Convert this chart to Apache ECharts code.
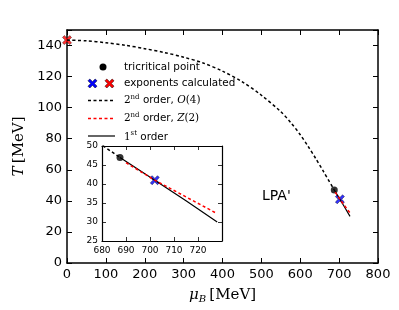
<!DOCTYPE html>
<html><head><meta charset="utf-8">
<script src="https://cdn.jsdelivr.net/npm/echarts@6/dist/echarts.min.js"></script>
<style>html,body{margin:0;padding:0;background:#fff}#c{width:399px;height:310px}</style>
</head><body><div id="c"></div>
<script>
// second order O(4) line (mu_B, T)
const muO4 = [0, 50, 100, 150, 200, 250, 300, 350, 400, 450, 500, 550, 575, 600, 620, 640, 660, 687.5];
const TO4  = [143.5, 143, 141.8, 140.2, 138, 135.5, 132.5, 128.8, 123.5, 116.8, 108, 97.4, 90.6, 82.6, 75.2, 67.2, 58.8, 47];
// first order line
const mu1st = [687.5, 702, 715, 728];
const T1st  = [47, 41, 35.6, 30];
// second order Z(2) line
const muZ2 = [690, 702, 715, 728];
const TZ2  = [45.6, 41, 36.6, 32.2];
// tricritical point
const muTCP = [687.5];
const TTCP  = [47];
// exponents calculated
const muExpBlue = [702];
const TExpBlue  = [41];
const muExpRed  = [0];
const TExpRed   = [143.5];
// ticks
const xTicksMain = [0, 100, 200, 300, 400, 500, 600, 700, 800];
const yTicksMain = [0, 20, 40, 60, 80, 100, 120, 140];
const xTicksInset = [680, 690, 700, 710, 720];
const yTicksInset = [25, 30, 35, 40, 45, 50];

const zip = (a, b) => a.map((v, i) => [v, b[i]]);
const XPATH = 'path://M0,2 L2,0 L5,3 L8,0 L10,2 L7,5 L10,8 L8,10 L5,7 L2,10 L0,8 L3,5 Z';
const XPTS = [[0,2],[2,0],[5,3],[8,0],[10,2],[7,5],[10,8],[8,10],[5,7],[2,10],[0,8],[3,5]];
const xPoly = (cx, cy, s) => XPTS.map(p => [cx + (p[0] - 5) * s / 10, cy + (p[1] - 5) * s / 10]);
const SANS = 'DejaVu Sans';
const SERIF = 'DejaVu Serif';

const chart = echarts.init(document.getElementById('c'), null, {renderer: 'canvas'});

function axisBase(extra) {
  return Object.assign({
    type: 'value',
    axisLine: {show: true, onZero: false, lineStyle: {color: '#000', width: 1.5}},
    axisTick: {show: true, inside: true, length: 5, lineStyle: {color: '#000', width: 1}},
    splitLine: {show: false},
    axisLabel: {show: false}
  }, extra);
}

const mainX = {min: 0, max: 800, interval: 100};
const mainY = {min: 0, max: 150, interval: 20};
const insX = {min: 680, max: 730, interval: 10};
const insY = {min: 25, max: 50, interval: 5};
const insLine = {show: true, onZero: false, lineStyle: {color: '#000', width: 1.2}};
const insTick = {show: true, inside: true, length: 4, lineStyle: {color: '#000', width: 0.8}};

const FS = 10.4;
const richLeg = {
  m: {fontFamily: SERIF, fontSize: FS, fill: '#000', verticalAlign: 'middle'},
  sup: {fontFamily: SERIF, fontSize: 7, fill: '#000', verticalAlign: 'middle', padding: [0, 0, 7, 0]},
  t: {fontFamily: SANS, fontSize: FS, fill: '#000', verticalAlign: 'middle'},
  i: {fontFamily: SERIF, fontStyle: 'italic', fontSize: FS, fill: '#000', verticalAlign: 'middle'}
};

const option = {
  animation: false,
  backgroundColor: '#fff',
  grid: [
    {left: 67, top: 30, width: 311, height: 233},
    {left: 102, top: 146, width: 120, height: 95, show: true, backgroundColor: '#fff', borderWidth: 0}
  ],
  xAxis: [
    axisBase(Object.assign({gridIndex: 0, position: 'bottom',
      axisLabel: {show: true, color: '#000', fontSize: 13, fontFamily: SANS, margin: 5,
        formatter: v => xTicksMain.includes(v) ? String(v) : ''},
      name: '{i|μ}{s|B} {n|[MeV]}', nameLocation: 'middle', nameGap: 23,
      nameTextStyle: {rich: {
        i: {fontFamily: SERIF, fontStyle: 'italic', fontSize: 15, color: '#000'},
        s: {fontFamily: SERIF, fontStyle: 'italic', fontSize: 10, color: '#000', verticalAlign: 'bottom', padding: [8, 0, 0, 0]},
        n: {fontFamily: SERIF, fontSize: 15, color: '#000'}}}
    }, mainX)),
    axisBase(Object.assign({gridIndex: 0, position: 'top'}, mainX)),
    axisBase(Object.assign({gridIndex: 1, position: 'bottom', axisLine: insLine, axisTick: insTick,
      axisLabel: {show: true, color: '#000', fontSize: 9, fontFamily: SANS, margin: 5, showMaxLabel: false,
        formatter: v => xTicksInset.includes(v) ? String(v) : ''}}, insX)),
    axisBase(Object.assign({gridIndex: 1, position: 'top', axisLine: insLine, axisTick: insTick}, insX))
  ],
  yAxis: [
    axisBase(Object.assign({gridIndex: 0, position: 'left',
      axisLabel: {show: true, color: '#000', fontSize: 13, fontFamily: SANS, margin: 5,
        formatter: v => yTicksMain.includes(v) ? String(v) : ''},
      name: '{i|T} {n|[MeV]}', nameLocation: 'middle', nameGap: 32, nameRotate: 90,
      nameTextStyle: {rich: {
        i: {fontFamily: SERIF, fontStyle: 'italic', fontSize: 15, color: '#000'},
        n: {fontFamily: SERIF, fontSize: 15, color: '#000'}}}
    }, mainY)),
    axisBase(Object.assign({gridIndex: 0, position: 'right'}, mainY)),
    axisBase(Object.assign({gridIndex: 1, position: 'left', axisLine: insLine, axisTick: insTick,
      axisLabel: {show: true, color: '#000', fontSize: 9, fontFamily: SANS, margin: 4,
        formatter: v => yTicksInset.includes(v) ? String(v) : ''}}, insY)),
    axisBase(Object.assign({gridIndex: 1, position: 'right', axisLine: insLine, axisTick: insTick}, insY))
  ],
  series: [
    // main panel
    {type: 'line', xAxisIndex: 0, yAxisIndex: 0, data: zip(muO4, TO4), smooth: 0.3, symbol: 'none',
      lineStyle: {color: '#000', width: 1.5, type: [3, 2.5]}},
    {type: 'line', xAxisIndex: 0, yAxisIndex: 0, data: zip(mu1st, T1st), symbol: 'none',
      lineStyle: {color: '#000', width: 1.2}},
    {type: 'line', xAxisIndex: 0, yAxisIndex: 0, data: zip(muZ2, TZ2), symbol: 'none',
      lineStyle: {color: '#ff0000', width: 1.5, type: [3, 2.5]}},
    {type: 'scatter', xAxisIndex: 0, yAxisIndex: 0, data: zip(muTCP, TTCP), symbol: 'circle', symbolSize: 7,
      itemStyle: {color: '#000'}},
    {type: 'scatter', xAxisIndex: 0, yAxisIndex: 0, data: zip(muExpBlue, TExpBlue), symbol: XPATH, symbolSize: 9,
      itemStyle: {color: '#0000ff', borderColor: '#000033', borderWidth: 0.6}},
    {type: 'scatter', xAxisIndex: 0, yAxisIndex: 0, data: zip(muExpRed, TExpRed), symbol: XPATH, symbolSize: 9,
      itemStyle: {color: '#ff0000', borderColor: '#330000', borderWidth: 0.6}},
    // inset
    {type: 'line', xAxisIndex: 2, yAxisIndex: 2, data: zip(muO4, TO4), symbol: 'none', clip: true,
      lineStyle: {color: '#000', width: 1.5, type: [3, 2.5]}},
    {type: 'line', xAxisIndex: 2, yAxisIndex: 2, data: zip(mu1st, T1st), symbol: 'none', clip: true,
      lineStyle: {color: '#000', width: 1.2}},
    {type: 'line', xAxisIndex: 2, yAxisIndex: 2, data: zip(muZ2, TZ2), symbol: 'none', clip: true,
      lineStyle: {color: '#ff0000', width: 1.5, type: [3, 2.5]}},
    {type: 'scatter', xAxisIndex: 2, yAxisIndex: 2, data: zip(muTCP, TTCP), symbol: 'circle', symbolSize: 7,
      itemStyle: {color: '#000'}},
    {type: 'scatter', xAxisIndex: 2, yAxisIndex: 2, data: zip(muExpBlue, TExpBlue), symbol: XPATH, symbolSize: 9,
      itemStyle: {color: '#0000ff', borderColor: '#000033', borderWidth: 0.6}}
  ],
  graphic: [
    // legend
    {type: 'circle', shape: {cx: 103, cy: 67, r: 3.5}, style: {fill: '#000'}},
    {type: 'text', x: 124, y: 62.5, style: {text: 'tricritical point', font: FS + 'px "DejaVu Sans"', fill: '#000'}},
    {type: 'polygon', shape: {points: xPoly(92.5, 83.5, 9)}, style: {fill: '#0000ff', stroke: '#000033', lineWidth: 0.6}},
    {type: 'polygon', shape: {points: xPoly(109.5, 83.5, 9)}, style: {fill: '#ff0000', stroke: '#330000', lineWidth: 0.6}},
    {type: 'text', x: 124, y: 78.5, style: {text: 'exponents calculated', font: FS + 'px "DejaVu Sans"', fill: '#000'}},
    {type: 'line', shape: {x1: 88, y1: 100.5, x2: 115, y2: 100.5}, style: {stroke: '#000', lineWidth: 1.5, lineDash: [3, 2.5]}},
    {type: 'text', x: 124, y: 93.5, style: {rich: richLeg, text: '{m|2}{sup|nd}{t| order, }{i|O}{m|(4)}'}},
    {type: 'line', shape: {x1: 88, y1: 118.5, x2: 115, y2: 118.5}, style: {stroke: '#ff0000', lineWidth: 1.5, lineDash: [3, 2.5]}},
    {type: 'text', x: 124, y: 111.5, style: {rich: richLeg, text: '{m|2}{sup|nd}{t| order, }{i|Z}{m|(2)}'}},
    {type: 'line', shape: {x1: 88, y1: 136, x2: 115, y2: 136}, style: {stroke: '#000', lineWidth: 1.2}},
    {type: 'text', x: 124, y: 130, style: {rich: richLeg, text: '{m|1}{sup|st}{t| order}'}},
    // annotation
    {type: 'text', x: 262, y: 189, style: {text: "LPA'", font: '14px "DejaVu Sans"', fill: '#000'}}
  ]
};
chart.setOption(option);
</script>
</body></html>
